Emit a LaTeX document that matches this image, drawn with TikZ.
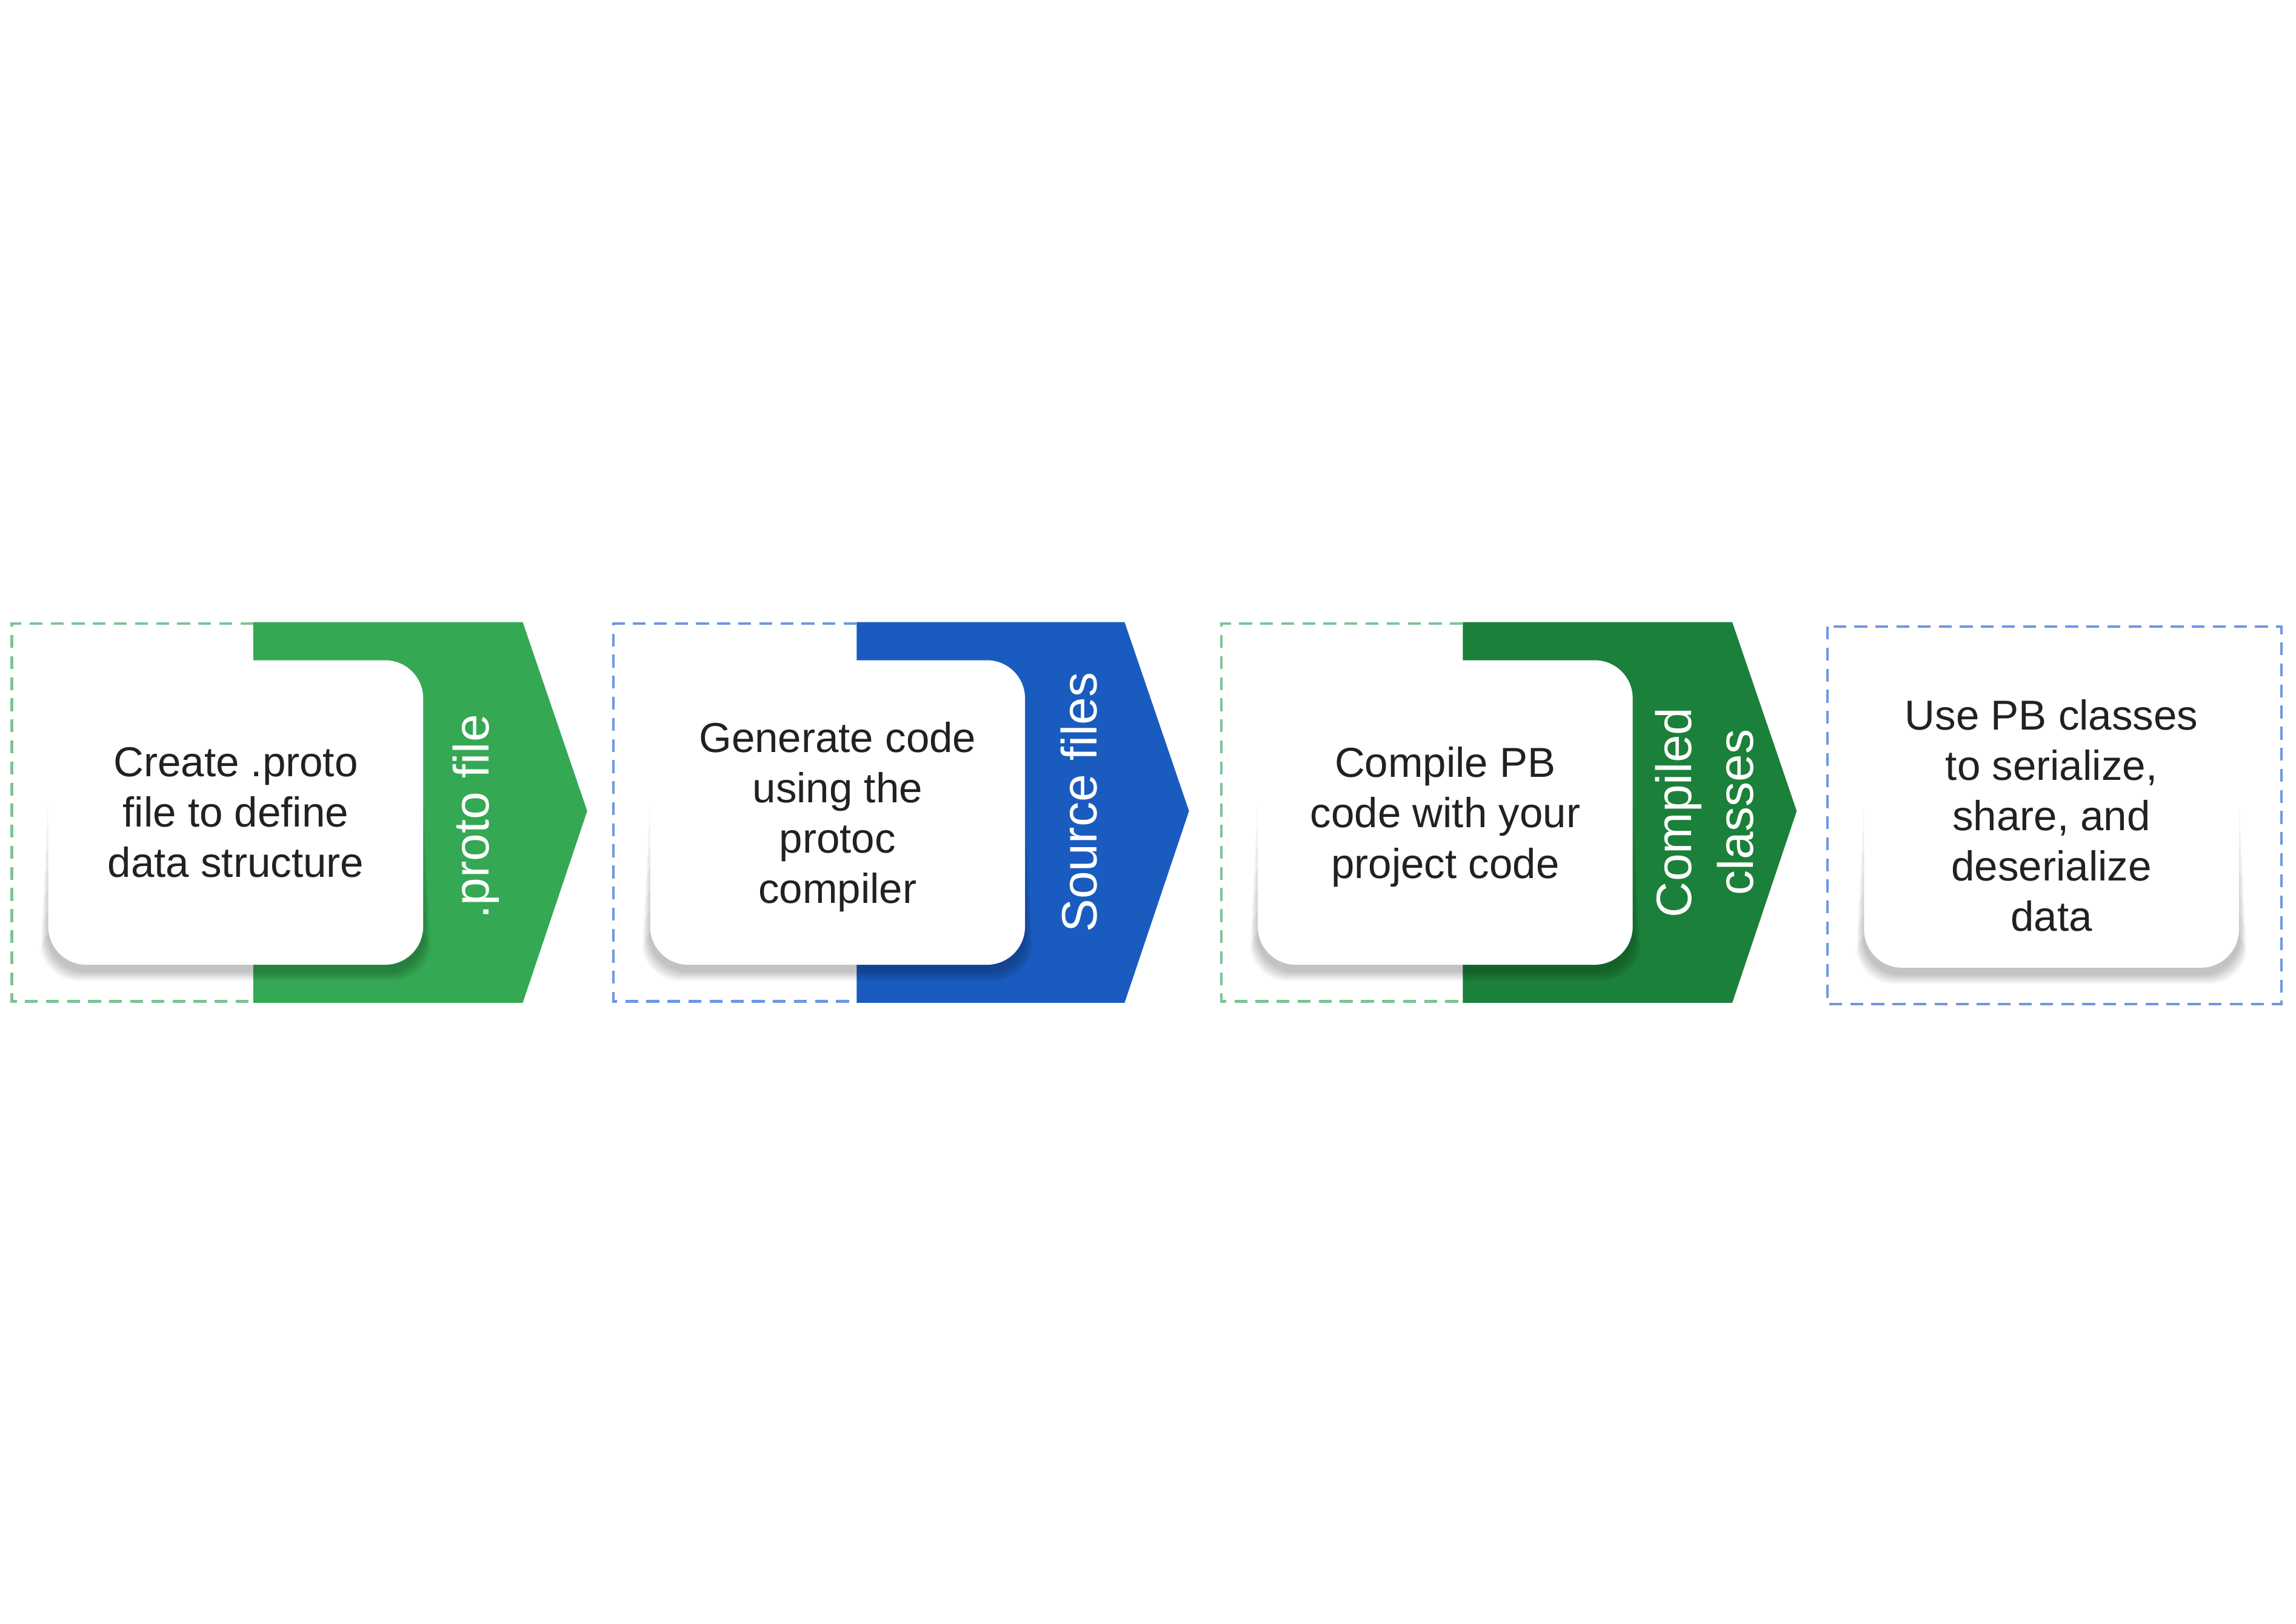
\documentclass[tikz,border=0pt]{standalone}
\usepackage{fontspec}
\setmainfont{Liberation Sans}
\usetikzlibrary{calc}
\definecolor{gA}{HTML}{34A853}
\definecolor{bA}{HTML}{1A5BBF}
\definecolor{dA}{HTML}{1B8039}
\definecolor{gD}{HTML}{7CC494}
\definecolor{bD}{HTML}{6E97E3}
\definecolor{ink}{HTML}{202124}
\newcommand\cardshade[2]{%
  \foreach \k in {1,...,7}{%
    \fill[black,opacity=0.035,rounded corners=13pt]
      ($(#1,#2)+(-64pt-\k*0.4pt,-52pt-2pt-\k*0.5pt)$) rectangle
      ($(#1,#2)+(64pt+\k*0.4pt,20pt-\k*8pt)$);
  }%
}
\tikzset{
  card/.style={fill=white, rounded corners=13pt, minimum width=128pt,
    minimum height=104pt, align=center, text=ink, inner sep=0pt,
    font=\fontsize{14.3}{17.2}\selectfont},
  cardtext/.style={align=center, text=ink, inner sep=0pt,
    font=\fontsize{14.3}{17.2}\selectfont},
  tag/.style={rotate=90, text=white, align=center, inner sep=0pt,
    font=\fontsize{17}{21}\selectfont},
  frame/.style={dash pattern=on 4.4pt off 2.8pt, line width=0.9pt},
}
\begin{document}
\begin{tikzpicture}[x=0.5pt,y=-0.5pt]
\useasboundingbox[fill=white] (0,0) rectangle (1568,1109);

% panel 1
\draw[frame, gD] (173,426) -- (8,426) -- (8,684) -- (173,684);
\fill[gA] (173,425) -- (357,425) -- (401,554) -- (357,685) -- (173,685) -- cycle;
\cardshade{161}{555}
\node[card] (c1) at (161,555) {Create .proto\\file to define\\data structure};
\node[tag] (t1) at (325,558) {.proto file};

% panel 2
\draw[frame, bD] (585,426) -- (419,426) -- (419,684) -- (585,684);
\fill[bA] (585,425) -- (768,425) -- (812,554) -- (768,685) -- (585,685) -- cycle;
\cardshade{572}{555}
\node[card] (c2) at (572,555) {};
\node[cardtext] (x2) at (572,558) {Generate code\\using the\\protoc\\compiler};
\node[tag] (t2) at (737,548) {Source files};

% panel 3
\draw[frame, gD] (999,426) -- (834,426) -- (834,684) -- (999,684);
\fill[dA] (999,425) -- (1183,425) -- (1227,554) -- (1183,685) -- (999,685) -- cycle;
\cardshade{987}{555}
\node[card] (c3) at (987,555) {};
\node[cardtext] (x3) at (987,558) {Compile PB\\code with your\\project code};
\node[tag] (t3) at (1164,555) {Compiled\\classes};

% panel 4
\draw[frame, bD] (1248,428) rectangle (1558,686);
\cardshade{1401}{557}
\node[card] (c4) at (1401,557) {Use PB classes\\to serialize,\\share, and\\deserialize\\data};
\end{tikzpicture}
\end{document}
